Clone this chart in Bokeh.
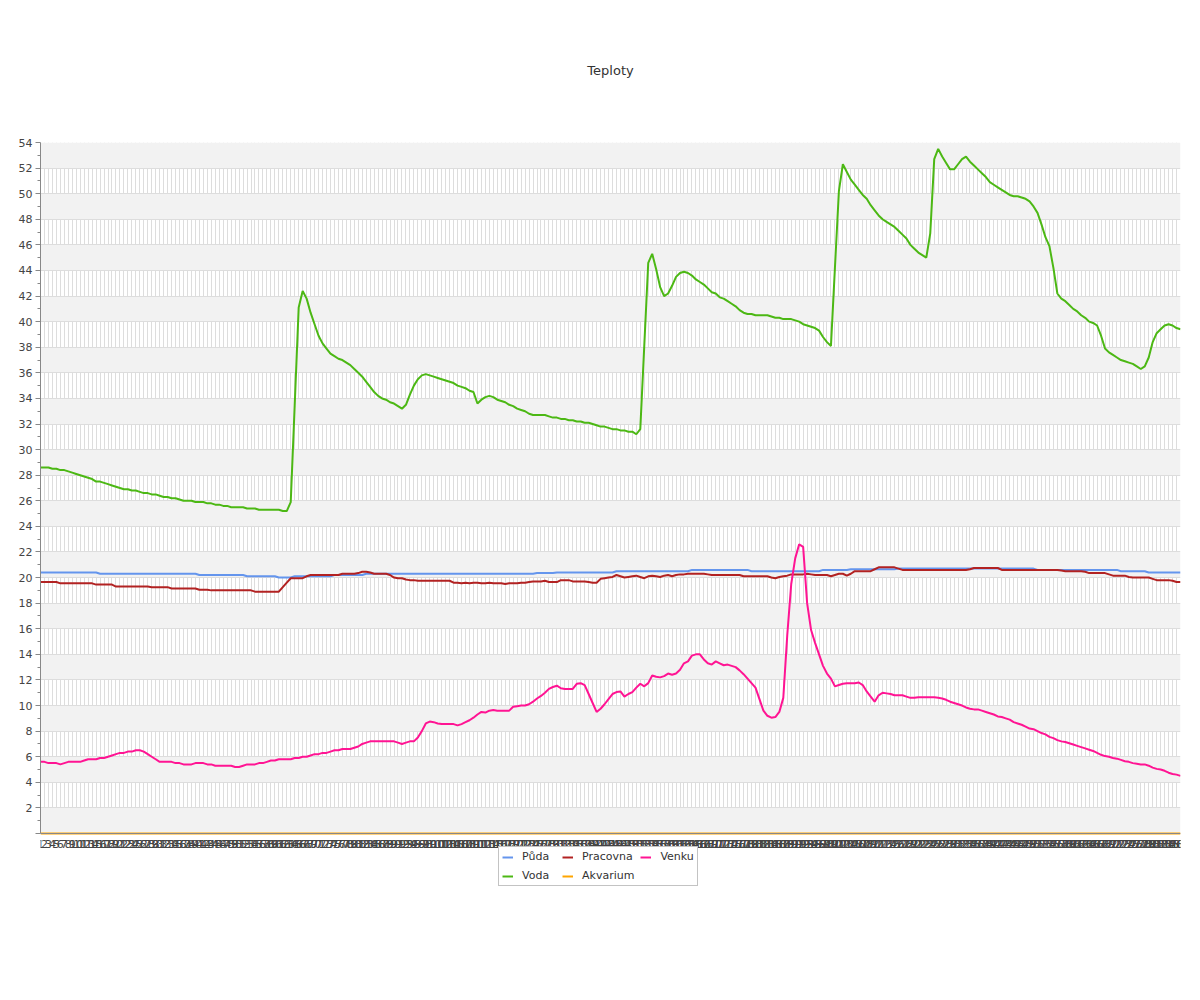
from bokeh.plotting import figure
from bokeh.models import (ColumnDataSource, Range1d, FixedTicker, Legend, LegendItem)
from bokeh.embed import file_html
from bokeh.resources import INLINE

# ---- data -------------------------------------------------------------
index = list(range(1, 289))          # sample number (x categories 1..288)

puda = [
    20.4, 20.4, 20.4, 20.4, 20.4, 20.4, 20.4, 20.4, 20.4, 20.4, 20.4, 20.4,
    20.4, 20.4, 20.4, 20.3, 20.3, 20.3, 20.3, 20.3, 20.3, 20.3, 20.3, 20.3,
    20.3, 20.3, 20.3, 20.3, 20.3, 20.3, 20.3, 20.3, 20.3, 20.3, 20.3, 20.3,
    20.3, 20.3, 20.3, 20.3, 20.2, 20.2, 20.2, 20.2, 20.2, 20.2, 20.2, 20.2,
    20.2, 20.2, 20.2, 20.2, 20.1, 20.1, 20.1, 20.1, 20.1, 20.1, 20.1, 20.1,
    20.0, 20.0, 20.0, 20.0, 20.1, 20.1, 20.1, 20.1, 20.1, 20.1, 20.1, 20.1,
    20.1, 20.1, 20.2, 20.2, 20.2, 20.2, 20.2, 20.2, 20.2, 20.2, 20.3, 20.3,
    20.3, 20.3, 20.3, 20.3, 20.3, 20.3, 20.3, 20.3, 20.3, 20.3, 20.3, 20.3,
    20.3, 20.3, 20.3, 20.3, 20.3, 20.3, 20.3, 20.3, 20.3, 20.3, 20.3, 20.3,
    20.3, 20.3, 20.3, 20.3, 20.3, 20.3, 20.3, 20.3, 20.3, 20.3, 20.3, 20.3,
    20.3, 20.3, 20.3, 20.3, 20.3, 20.35, 20.35, 20.35, 20.35, 20.35, 20.4, 20.4,
    20.4, 20.4, 20.4, 20.4, 20.4, 20.4, 20.4, 20.4, 20.4, 20.4, 20.4, 20.4,
    20.4, 20.5, 20.5, 20.5, 20.5, 20.5, 20.5, 20.5, 20.5, 20.5, 20.5, 20.5,
    20.5, 20.5, 20.5, 20.5, 20.5, 20.5, 20.5, 20.5, 20.6, 20.6, 20.6, 20.6,
    20.6, 20.6, 20.6, 20.6, 20.6, 20.6, 20.6, 20.6, 20.6, 20.6, 20.6, 20.5,
    20.5, 20.5, 20.5, 20.5, 20.5, 20.5, 20.5, 20.5, 20.5, 20.5, 20.5, 20.5,
    20.5, 20.5, 20.5, 20.5, 20.5, 20.6, 20.6, 20.6, 20.6, 20.6, 20.6, 20.6,
    20.65, 20.65, 20.65, 20.65, 20.65, 20.65, 20.65, 20.65, 20.65, 20.65, 20.65, 20.65,
    20.7, 20.7, 20.7, 20.7, 20.7, 20.7, 20.7, 20.7, 20.7, 20.7, 20.7, 20.7,
    20.7, 20.7, 20.7, 20.7, 20.7, 20.7, 20.7, 20.7, 20.7, 20.7, 20.7, 20.7,
    20.7, 20.7, 20.7, 20.7, 20.7, 20.7, 20.7, 20.7, 20.7, 20.7, 20.7, 20.6,
    20.6, 20.6, 20.6, 20.6, 20.6, 20.6, 20.6, 20.6, 20.6, 20.6, 20.6, 20.6,
    20.6, 20.6, 20.6, 20.6, 20.6, 20.6, 20.6, 20.6, 20.5, 20.5, 20.5, 20.5,
    20.5, 20.5, 20.5, 20.4, 20.4, 20.4, 20.4, 20.4, 20.4, 20.4, 20.4, 20.4,
]

pracovna = [
    19.65, 19.65, 19.65, 19.65, 19.65, 19.55, 19.55, 19.55, 19.55, 19.55, 19.55, 19.55,
    19.55, 19.55, 19.45, 19.45, 19.45, 19.45, 19.45, 19.3, 19.3, 19.3, 19.3, 19.3,
    19.3, 19.3, 19.3, 19.3, 19.25, 19.25, 19.25, 19.25, 19.25, 19.15, 19.15, 19.15,
    19.15, 19.15, 19.15, 19.15, 19.05, 19.05, 19.05, 19.0, 19.0, 19.0, 19.0, 19.0,
    19.0, 19.0, 19.0, 19.0, 19.0, 19.0, 18.9, 18.9, 18.9, 18.9, 18.9, 18.9,
    18.9, 19.25, 19.6, 19.95, 19.95, 19.95, 19.95, 20.1, 20.2, 20.2, 20.2, 20.2,
    20.2, 20.2, 20.2, 20.2, 20.3, 20.3, 20.3, 20.3, 20.35, 20.45, 20.45, 20.4,
    20.3, 20.3, 20.3, 20.3, 20.2, 20.0, 19.95, 19.95, 19.85, 19.8, 19.8, 19.75,
    19.75, 19.75, 19.75, 19.75, 19.75, 19.75, 19.75, 19.75, 19.6, 19.6, 19.55, 19.6,
    19.55, 19.6, 19.6, 19.55, 19.55, 19.6, 19.55, 19.55, 19.55, 19.5, 19.55, 19.55,
    19.55, 19.6, 19.6, 19.65, 19.7, 19.7, 19.7, 19.75, 19.65, 19.65, 19.65, 19.8,
    19.8, 19.8, 19.7, 19.7, 19.7, 19.7, 19.65, 19.6, 19.6, 19.9, 19.95, 20.0,
    20.05, 20.2, 20.1, 20.0, 20.05, 20.1, 20.15, 20.05, 19.95, 20.1, 20.15, 20.1,
    20.05, 20.15, 20.2, 20.1, 20.2, 20.25, 20.25, 20.3, 20.3, 20.3, 20.3, 20.3,
    20.25, 20.2, 20.2, 20.2, 20.2, 20.2, 20.2, 20.2, 20.2, 20.1, 20.1, 20.1,
    20.1, 20.1, 20.1, 20.1, 20.0, 19.95, 20.05, 20.1, 20.15, 20.25, 20.25, 20.25,
    20.25, 20.3, 20.25, 20.2, 20.2, 20.2, 20.2, 20.1, 20.2, 20.3, 20.3, 20.15,
    20.3, 20.5, 20.5, 20.5, 20.5, 20.5, 20.65, 20.8, 20.8, 20.8, 20.8, 20.8,
    20.7, 20.6, 20.6, 20.6, 20.6, 20.6, 20.6, 20.6, 20.6, 20.6, 20.6, 20.6,
    20.6, 20.6, 20.6, 20.6, 20.6, 20.6, 20.65, 20.75, 20.75, 20.75, 20.75, 20.75,
    20.75, 20.75, 20.6, 20.6, 20.6, 20.6, 20.6, 20.6, 20.6, 20.6, 20.6, 20.6,
    20.6, 20.6, 20.6, 20.6, 20.6, 20.55, 20.5, 20.5, 20.5, 20.5, 20.5, 20.45,
    20.35, 20.35, 20.35, 20.35, 20.35, 20.25, 20.15, 20.15, 20.15, 20.15, 20.05, 20.0,
    20.0, 20.0, 20.0, 20.0, 19.9, 19.8, 19.8, 19.8, 19.8, 19.75, 19.65, 19.65,
]

venku = [
    5.6, 5.6, 5.5, 5.5, 5.5, 5.4, 5.5, 5.6, 5.6, 5.6, 5.6, 5.7,
    5.8, 5.8, 5.8, 5.9, 5.9, 6.0, 6.1, 6.2, 6.3, 6.3, 6.4, 6.4,
    6.5, 6.5, 6.4, 6.2, 6.0, 5.8, 5.6, 5.6, 5.6, 5.6, 5.5, 5.5,
    5.4, 5.4, 5.4, 5.5, 5.5, 5.5, 5.4, 5.4, 5.3, 5.3, 5.3, 5.3,
    5.3, 5.2, 5.2, 5.3, 5.4, 5.4, 5.4, 5.5, 5.5, 5.6, 5.7, 5.7,
    5.8, 5.8, 5.8, 5.8, 5.9, 5.9, 6.0, 6.0, 6.1, 6.2, 6.2, 6.3,
    6.3, 6.4, 6.5, 6.5, 6.6, 6.6, 6.6, 6.7, 6.8, 7.0, 7.1, 7.2,
    7.2, 7.2, 7.2, 7.2, 7.2, 7.2, 7.1, 7.0, 7.1, 7.2, 7.2, 7.5,
    8.0, 8.6, 8.75, 8.7, 8.6, 8.55, 8.55, 8.55, 8.55, 8.45, 8.55, 8.7,
    8.85, 9.05, 9.3, 9.5, 9.45, 9.6, 9.65, 9.6, 9.6, 9.6, 9.6, 9.9,
    9.95, 10.0, 10.0, 10.1, 10.3, 10.55, 10.75, 11.0, 11.3, 11.45, 11.55, 11.35,
    11.3, 11.3, 11.3, 11.7, 11.75, 11.6, 10.9, 10.2, 9.5, 9.75, 10.1, 10.5,
    10.9, 11.05, 11.1, 10.7, 10.9, 11.05, 11.4, 11.7, 11.5, 11.75, 12.35, 12.25,
    12.2, 12.3, 12.5, 12.4, 12.5, 12.8, 13.3, 13.45, 13.9, 14.0, 14.0, 13.6,
    13.3, 13.2, 13.45, 13.3, 13.15, 13.2, 13.1, 13.0, 12.75, 12.45, 12.1, 11.75,
    11.4, 10.5, 9.6, 9.2, 9.05, 9.1, 9.5, 10.6, 15.5, 19.5, 21.5, 22.6,
    22.4, 18.0, 15.9, 14.9, 14.0, 13.1, 12.5, 12.1, 11.5, 11.6, 11.7, 11.75,
    11.75, 11.75, 11.8, 11.6, 11.1, 10.7, 10.3, 10.8, 11.0, 10.95, 10.9, 10.8,
    10.8, 10.8, 10.7, 10.6, 10.6, 10.65, 10.65, 10.65, 10.65, 10.65, 10.6, 10.55,
    10.45, 10.3, 10.2, 10.1, 10.0, 9.85, 9.75, 9.7, 9.7, 9.6, 9.5, 9.4,
    9.3, 9.15, 9.1, 9.0, 8.9, 8.7, 8.6, 8.5, 8.35, 8.2, 8.15, 8.0,
    7.85, 7.75, 7.55, 7.45, 7.3, 7.2, 7.15, 7.05, 6.95, 6.85, 6.75, 6.65,
    6.55, 6.45, 6.3, 6.15, 6.05, 6.0, 5.9, 5.85, 5.75, 5.65, 5.6, 5.5,
    5.45, 5.4, 5.4, 5.3, 5.15, 5.05, 5.0, 4.9, 4.75, 4.65, 4.6, 4.5,
]

voda = [
    28.6, 28.6, 28.6, 28.5, 28.5, 28.4, 28.4, 28.3, 28.2, 28.1, 28.0, 27.9,
    27.8, 27.7, 27.5, 27.5, 27.4, 27.3, 27.2, 27.1, 27.0, 26.9, 26.9, 26.8,
    26.8, 26.7, 26.6, 26.6, 26.5, 26.5, 26.4, 26.3, 26.3, 26.2, 26.2, 26.1,
    26.0, 26.0, 26.0, 25.9, 25.9, 25.9, 25.8, 25.8, 25.7, 25.7, 25.6, 25.6,
    25.5, 25.5, 25.5, 25.5, 25.4, 25.4, 25.4, 25.3, 25.3, 25.3, 25.3, 25.3,
    25.3, 25.2, 25.2, 25.9, 33.5, 41.1, 42.4, 41.8, 40.7, 39.8, 38.9, 38.3,
    37.9, 37.5, 37.3, 37.1, 37.0, 36.8, 36.6, 36.3, 36.0, 35.7, 35.3, 34.9,
    34.5, 34.2, 34.0, 33.9, 33.7, 33.6, 33.4, 33.2, 33.5, 34.3, 35.0, 35.5,
    35.8, 35.9, 35.8, 35.7, 35.6, 35.5, 35.4, 35.3, 35.2, 35.0, 34.9, 34.8,
    34.6, 34.5, 33.6, 33.9, 34.1, 34.2, 34.1, 33.9, 33.8, 33.7, 33.5, 33.4,
    33.2, 33.1, 33.0, 32.8, 32.7, 32.7, 32.7, 32.7, 32.6, 32.5, 32.5, 32.4,
    32.4, 32.3, 32.3, 32.2, 32.2, 32.1, 32.1, 32.0, 31.9, 31.8, 31.8, 31.7,
    31.6, 31.6, 31.5, 31.5, 31.4, 31.4, 31.2, 31.6, 38.1, 44.6, 45.3, 44.1,
    42.7, 42.0, 42.2, 42.8, 43.5, 43.8, 43.9, 43.8, 43.6, 43.3, 43.1, 42.9,
    42.6, 42.3, 42.2, 41.9, 41.8, 41.6, 41.4, 41.2, 40.9, 40.7, 40.6, 40.6,
    40.5, 40.5, 40.5, 40.5, 40.4, 40.3, 40.3, 40.2, 40.2, 40.2, 40.1, 40.0,
    39.8, 39.7, 39.6, 39.5, 39.3, 38.8, 38.4, 38.1, 44.2, 50.2, 52.3, 51.7,
    51.1, 50.7, 50.3, 49.9, 49.6, 49.1, 48.7, 48.3, 48.0, 47.8, 47.6, 47.4,
    47.1, 46.8, 46.5, 46.0, 45.7, 45.4, 45.2, 45.0, 46.9, 52.7, 53.5, 52.9,
    52.4, 51.9, 51.9, 52.3, 52.7, 52.9, 52.5, 52.2, 51.9, 51.6, 51.3, 50.9,
    50.7, 50.5, 50.3, 50.1, 49.9, 49.8, 49.8, 49.7, 49.6, 49.4, 49.0, 48.5,
    47.6, 46.6, 45.9, 44.2, 42.2, 41.8, 41.6, 41.3, 41.0, 40.8, 40.5, 40.3,
    40.0, 39.9, 39.7, 38.9, 37.9, 37.6, 37.4, 37.2, 37.0, 36.9, 36.8, 36.7,
    36.5, 36.3, 36.5, 37.2, 38.4, 39.1, 39.4, 39.7, 39.8, 39.7, 39.5, 39.4,
]

akvarium = [
    0, 0, 0, 0, 0, 0, 0, 0, 0, 0, 0, 0, 0, 0, 0, 0, 0, 0, 0, 0, 0, 0, 0, 0,
    0, 0, 0, 0, 0, 0, 0, 0, 0, 0, 0, 0, 0, 0, 0, 0, 0, 0, 0, 0, 0, 0, 0, 0,
    0, 0, 0, 0, 0, 0, 0, 0, 0, 0, 0, 0, 0, 0, 0, 0, 0, 0, 0, 0, 0, 0, 0, 0,
    0, 0, 0, 0, 0, 0, 0, 0, 0, 0, 0, 0, 0, 0, 0, 0, 0, 0, 0, 0, 0, 0, 0, 0,
    0, 0, 0, 0, 0, 0, 0, 0, 0, 0, 0, 0, 0, 0, 0, 0, 0, 0, 0, 0, 0, 0, 0, 0,
    0, 0, 0, 0, 0, 0, 0, 0, 0, 0, 0, 0, 0, 0, 0, 0, 0, 0, 0, 0, 0, 0, 0, 0,
    0, 0, 0, 0, 0, 0, 0, 0, 0, 0, 0, 0, 0, 0, 0, 0, 0, 0, 0, 0, 0, 0, 0, 0,
    0, 0, 0, 0, 0, 0, 0, 0, 0, 0, 0, 0, 0, 0, 0, 0, 0, 0, 0, 0, 0, 0, 0, 0,
    0, 0, 0, 0, 0, 0, 0, 0, 0, 0, 0, 0, 0, 0, 0, 0, 0, 0, 0, 0, 0, 0, 0, 0,
    0, 0, 0, 0, 0, 0, 0, 0, 0, 0, 0, 0, 0, 0, 0, 0, 0, 0, 0, 0, 0, 0, 0, 0,
    0, 0, 0, 0, 0, 0, 0, 0, 0, 0, 0, 0, 0, 0, 0, 0, 0, 0, 0, 0, 0, 0, 0, 0,
    0, 0, 0, 0, 0, 0, 0, 0, 0, 0, 0, 0, 0, 0, 0, 0, 0, 0, 0, 0, 0, 0, 0, 0,
]

y_ticks = [0, 2, 4, 6, 8, 10, 12, 14, 16, 18, 20, 22, 24, 26, 28, 30, 32, 34,
           36, 38, 40, 42, 44, 46, 48, 50, 52, 54]
y_minor = [1, 3, 5, 7, 9, 11, 13, 15, 17, 19, 21, 23, 25, 27, 29, 31, 33, 35,
           37, 39, 41, 43, 45, 47, 49, 51, 53]

series_names = ["Půda", "Pracovna", "Venku", "Voda", "Akvarium"]
series_colors = ["#6495ed", "#b22222", "#ff1493", "#4cb814", "#ffa500"]

for s in (puda, pracovna, venku, voda, akvarium):
    assert len(s) == len(index), len(s)

# ---- figure -----------------------------------------------------------
FONT = "DejaVu Sans"
Y_MAX = 54
PX_PER_UNIT = 691.0 / Y_MAX            # plot scale of the reference
LEGEND_ROOM = 55                       # px of frame kept below y = 0
y_bottom = -LEGEND_ROOM / PX_PER_UNIT

p = figure(width=1192, height=913, output_backend="svg", toolbar_location=None,
           x_range=Range1d(1, 288), y_range=Range1d(y_bottom, Y_MAX),
           min_border_left=40, min_border_right=12, min_border_top=142,
           min_border_bottom=25, outline_line_color=None,
           background_fill_color="white", border_fill_color="white")

p.title.text = "Teploty"
p.title.align = "center"
p.title.vertical_align = "top"
p.title.offset = -10
p.title.standoff = 125
p.title.text_font = FONT
p.title.text_font_size = "13px"
p.title.text_font_style = "normal"
p.title.text_color = "#333333"

src = ColumnDataSource(dict(x=index, puda=puda, pracovna=pracovna, venku=venku,
                            voda=voda, akvarium=akvarium))
keys = ["puda", "pracovna", "venku", "voda", "akvarium"]
renderers = []
for key, name, col in zip(keys, series_names, series_colors):
    r = p.line("x", key, source=src, line_color=col, line_width=2)
    renderers.append((name, r))

# axes
xax = p.xaxis[0]
xax.fixed_location = 0
xax.ticker = FixedTicker(ticks=index)
xax.major_tick_out = 0
xax.major_tick_in = 0
xax.minor_tick_out = 0
xax.major_label_standoff = 6
xax.major_label_text_font = FONT
xax.major_label_text_font_size = "11px"
xax.major_label_text_color = "#444444"
xax.axis_line_color = "#888888"

yax = p.yaxis[0]
yax.bounds = (0, Y_MAX)
yax.ticker = FixedTicker(ticks=y_ticks, minor_ticks=y_minor)
yax.major_label_overrides = {0: ""}
yax.major_tick_out = 5
yax.major_tick_in = 0
yax.minor_tick_out = 3
yax.minor_tick_in = 0
yax.major_label_standoff = 3
yax.major_label_text_font = FONT
yax.major_label_text_font_size = "11px"
yax.major_label_text_color = "#444444"
yax.axis_line_color = "#888888"
yax.major_tick_line_color = "#888888"
yax.minor_tick_line_color = "#888888"

# grids
xg = p.xgrid[0]
yg = p.ygrid[0]
xg.grid_line_color = "#dddddd"
yg.grid_line_color = "#dddddd"
yg.band_fill_color = "#f2f2f2"
yg.band_fill_alpha = 1.0
try:
    xg.cross_bounds = (0, Y_MAX)
except Exception:
    pass

legend = Legend(items=[LegendItem(label=n, renderers=[r]) for n, r in renderers],
                orientation="horizontal", nrows=2,
                location=(458, 2),
                label_text_font=FONT, label_text_font_size="11px",
                label_text_color="#333333",
                glyph_width=11, glyph_height=12, label_height=12,
                label_width=34, label_standoff=9, spacing=6, padding=3,
                margin=0,
                border_line_color="#888888", border_line_width=1,
                background_fill_color="white", background_fill_alpha=1.0)
p.add_layout(legend, "center")

open("out.html", "w").write(file_html(p, INLINE))
